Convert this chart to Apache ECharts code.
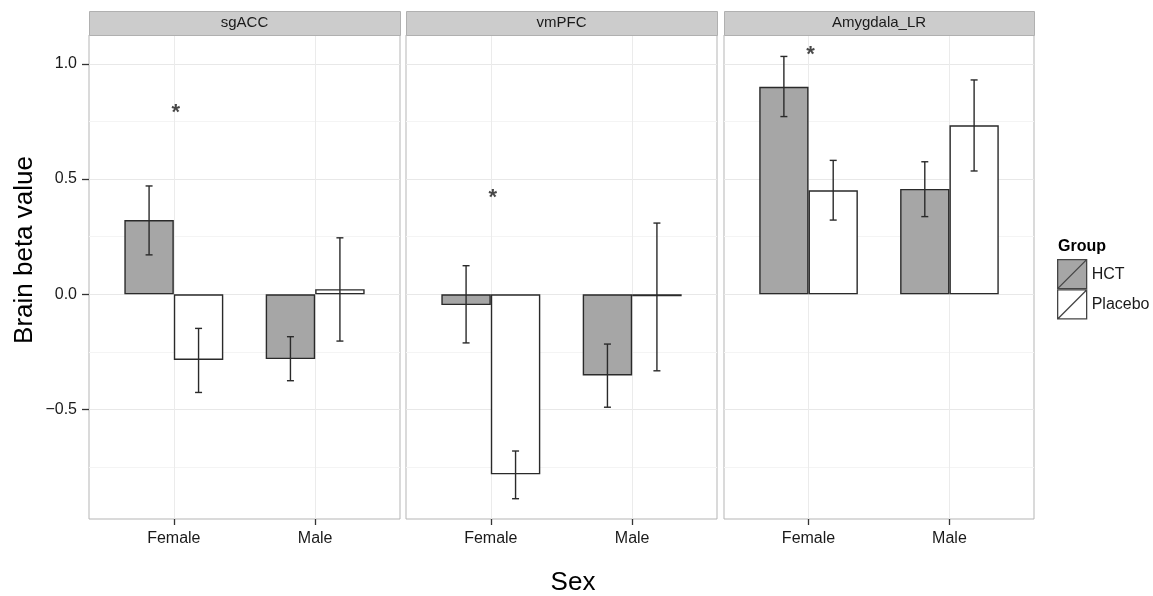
<!DOCTYPE html>
<html><head><meta charset="utf-8">
<script src="https://cdn.jsdelivr.net/npm/echarts@6/dist/echarts.min.js"></script>
<style>html,body{margin:0;padding:0;background:#fff}#c{width:1153px;height:596px}</style>
</head><body><div id="c"></div><script>
// ---- data ----
const regions = ['sgACC', 'vmPFC', 'Amygdala_LR'];
const sexes = ['Female', 'Male'];
const groups = ['HCT', 'Placebo'];

const sgACC_HCT = [0.322, -0.281];
const sgACC_HCT_low = [0.171, -0.375];
const sgACC_HCT_high = [0.470, -0.184];
const sgACC_Placebo = [-0.285, 0.022];
const sgACC_Placebo_low = [-0.426, -0.203];
const sgACC_Placebo_high = [-0.148, 0.245];

const vmPFC_HCT = [-0.047, -0.352];
const vmPFC_HCT_low = [-0.211, -0.490];
const vmPFC_HCT_high = [0.124, -0.216];
const vmPFC_Placebo = [-0.781, -0.008];
const vmPFC_Placebo_low = [-0.887, -0.332];
const vmPFC_Placebo_high = [-0.680, 0.309];

const amy_HCT = [0.900, 0.457];
const amy_HCT_low = [0.771, 0.337];
const amy_HCT_high = [1.032, 0.575];
const amy_Placebo = [0.451, 0.733];
const amy_Placebo_low = [0.322, 0.535];
const amy_Placebo_high = [0.581, 0.930];

// significance asterisks (over Female) per region
const starY = [0.81, 0.441, 1.06];

const yTicks = [-0.5, 0, 0.5, 1.0];
const yMinor = [-0.75, -0.25, 0.25, 0.75];
const yMin = -0.975, yMax = 1.125;

// ---- assembly ----
const means = [[sgACC_HCT, sgACC_Placebo], [vmPFC_HCT, vmPFC_Placebo], [amy_HCT, amy_Placebo]];
const lows = [[sgACC_HCT_low, sgACC_Placebo_low], [vmPFC_HCT_low, vmPFC_Placebo_low], [amy_HCT_low, amy_Placebo_low]];
const highs = [[sgACC_HCT_high, sgACC_Placebo_high], [vmPFC_HCT_high, vmPFC_Placebo_high], [amy_HCT_high, amy_Placebo_high]];

const FONT = '"Liberation Sans", Arial, Helvetica, sans-serif';
const fills = ['#a6a6a6', '#ffffff'];
const panels = [{left: 89, width: 311}, {left: 406, width: 311}, {left: 724, width: 310}];
const TOP = 35, HEIGHT = 484;
const xMin = 0.4, xMax = 2.6, dodge = 0.7;

const grid = [], xAxis = [], yAxis = [], series = [], graphic = [];
panels.forEach((p, i) => {
  grid.push({left: p.left, top: TOP, width: p.width, height: HEIGHT, show: true,
    borderColor: '#b5b5b5', borderWidth: 1, backgroundColor: '#fff', containLabel: false});
  xAxis.push({type: 'value', gridIndex: i, min: xMin, max: xMax, position: 'bottom',
    axisLine: {show: false, onZero: false},
    axisTick: {show: true, customValues: [1, 2], length: 6, lineStyle: {color: '#333', width: 1.3}},
    axisLabel: {show: true, customValues: [1, 2], formatter: v => sexes[Math.round(v) - 1] || '',
      fontSize: 16, color: '#1a1a1a', fontFamily: FONT, margin: 12},
    splitLine: {show: true, lineStyle: {color: '#ebebeb', width: 1}}});
  yAxis.push({type: 'value', gridIndex: i, min: yMin, max: yMax,
    axisLine: {show: false, onZero: false},
    axisTick: {show: i === 0, customValues: yTicks, length: 7, lineStyle: {color: '#333', width: 1.3}},
    axisLabel: {show: i === 0, customValues: yTicks, formatter: v => v.toFixed(1).replace('-', '\u2212'),
      fontSize: 16, color: '#1a1a1a', fontFamily: FONT, margin: 12},
    splitLine: {show: true, lineStyle: {color: '#e8e8e8', width: 1}}});
  yAxis.push({type: 'value', gridIndex: i, min: yMin, max: yMax, position: 'left',
    axisLine: {show: false, onZero: false},
    axisTick: {show: false, customValues: yMinor},
    axisLabel: {show: false, customValues: yMinor},
    splitLine: {show: true, lineStyle: {color: '#f4f4f4', width: 1}}});

  const barW = (dodge / 2) / (xMax - xMin) * p.width;
  groups.forEach((g, gi) => {
    series.push({type: 'bar', name: g, xAxisIndex: i, yAxisIndex: 2 * i,
      data: means[i][gi].map((v, j) => [j + 1, v]),
      barWidth: barW, barGap: '0%', z: 2,
      itemStyle: {color: fills[gi], borderColor: '#2a2a2a', borderWidth: 1.4},
      emphasis: {disabled: true}, animation: false});
    const off = (gi === 0 ? -1 : 1) * dodge / 4;
    series.push({type: 'custom', name: g + ' err', xAxisIndex: i, yAxisIndex: 2 * i, z: 3,
      data: lows[i][gi].map((lo, j) => [j + 1 + off, lo, highs[i][gi][j]]),
      encode: {x: 0, y: [1, 2]},
      renderItem: (params, api) => {
        const x = api.value(0);
        const a = api.coord([x, api.value(1)]);
        const b = api.coord([x, api.value(2)]);
        const c = 3.5, st = {stroke: '#2a2a2a', lineWidth: 1.4};
        return {type: 'group', children: [
          {type: 'line', shape: {x1: a[0], y1: a[1], x2: b[0], y2: b[1]}, style: st},
          {type: 'line', shape: {x1: a[0] - c, y1: a[1], x2: a[0] + c, y2: a[1]}, style: st},
          {type: 'line', shape: {x1: b[0] - c, y1: b[1], x2: b[0] + c, y2: b[1]}, style: st}
        ]};
      }, animation: false, silent: true});
  });
  series.push({type: 'scatter', name: 'sig', xAxisIndex: i, yAxisIndex: 2 * i, z: 4,
    data: [[1, starY[i]]], symbolSize: 1, itemStyle: {color: 'rgba(0,0,0,0)'},
    label: {show: true, formatter: '*', position: 'inside', fontSize: 22, fontWeight: 'bold', color: '#1a1a1a',
      fontFamily: FONT, offset: [2, 5]}, silent: true, animation: false});

  // facet strip
  graphic.push({type: 'rect', left: p.left, top: 11, z: 10,
    shape: {width: p.width, height: 24}, style: {fill: '#cccccc', stroke: '#b0b0b0', lineWidth: 1}});
  graphic.push({type: 'text', x: p.left + p.width / 2, y: 23, z: 11,
    style: {text: regions[i], fill: '#1a1a1a', font: '15px ' + FONT, textAlign: 'center', textVerticalAlign: 'middle'}});
});

graphic.push({type: 'text', x: 25, y: 250, rotation: Math.PI / 2,
  style: {text: 'Brain beta value', fill: '#000', font: '26px ' + FONT, textAlign: 'center', textVerticalAlign: 'middle'}});
graphic.push({type: 'text', x: 573, y: 583,
  style: {text: 'Sex', fill: '#000', font: '26px ' + FONT, textAlign: 'center', textVerticalAlign: 'middle'}});
graphic.push({type: 'text', x: 1058, y: 247,
  style: {text: 'Group', fill: '#000', font: 'bold 16px ' + FONT, textAlign: 'left', textVerticalAlign: 'middle'}});

const keyIcon = 'path://M0,0L29,0L29,29L0,29Z M0,29L29,0';
const chart = echarts.init(document.getElementById('c'), null, {renderer: 'canvas'});
chart.setOption({
  animation: false,
  backgroundColor: '#fff',
  grid, xAxis, yAxis, series, graphic,
  legend: {
    data: [
      {name: 'HCT', icon: keyIcon, itemStyle: {color: fills[0], borderColor: '#444', borderWidth: 1.3}},
      {name: 'Placebo', icon: keyIcon, itemStyle: {color: fills[1], borderColor: '#444', borderWidth: 1.3}}
    ],
    orient: 'vertical', left: 1057, top: 259, itemWidth: 29, itemHeight: 29, itemGap: 0, padding: 0,
    selectedMode: false,
    textStyle: {fontSize: 16, color: '#1a1a1a', fontFamily: FONT}
  }
});
</script></body></html>
